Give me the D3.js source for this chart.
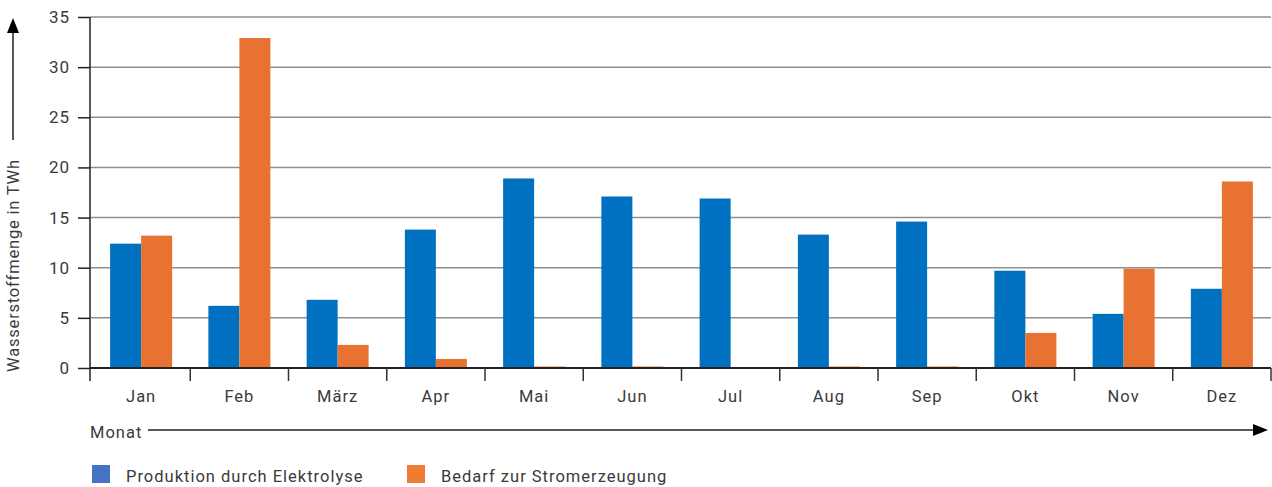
<!DOCTYPE html>
<html>
<head>
<meta charset="utf-8">
<script src="https://cdn.jsdelivr.net/npm/d3@7"></script>
<style>
  body { margin: 0; background: #fff; }
  svg { display: block; font-family: Roboto, "Noto Sans", sans-serif; }
  text { letter-spacing: 1px; }
</style>
</head>
<body>
<svg id="chart" width="1272" height="487"></svg>
<script>
// Monthly hydrogen volumes (TWh)
const months = ["Jan", "Feb", "März", "Apr", "Mai", "Jun", "Jul", "Aug", "Sep", "Okt", "Nov", "Dez"];
const production = [12.4, 6.2, 6.8, 13.8, 18.9, 17.1, 16.9, 13.3, 14.6, 9.7, 5.4, 7.9];
const demand = [13.2, 32.9, 2.3, 0.9, 0.15, 0.15, 0, 0.15, 0.15, 3.5, 9.9, 18.6];
const seriesNames = ["Produktion durch Elektrolyse", "Bedarf zur Stromerzeugung"];
const yTicks = [0, 5, 10, 15, 20, 25, 30, 35];

const barColors = ["#0070c0", "#e87232"];
const legendColors = ["#4472c4", "#ed7d31"];
const textColor = "#3a3a3a";

const svg = d3.select("#chart");
const axisX0 = 90, xLeft = 92, xRight = 1271;
const yTop = 17, yBottom = 368;

const x = d3.scaleBand().domain(months).range([xLeft, xRight]).paddingInner(0).paddingOuter(0);
const y = d3.scaleLinear().domain([0, 35]).range([yBottom, yTop]);
const inner = d3.scaleBand().domain([0, 1]).range([0, 62]);
const groupOffset = (x.bandwidth() - 62) / 2;

// Horizontal gridlines
svg.append("g")
  .selectAll("line")
  .data(yTicks.filter(d => d > 0))
  .join("line")
  .attr("x1", axisX0).attr("x2", xRight)
  .attr("y1", d => y(d)).attr("y2", d => y(d))
  .attr("stroke", "#8c8f93").attr("stroke-width", 1.5);

// Bars
const rows = months.map((m, i) => ({ month: m, vals: [production[i], demand[i]] }));
svg.append("g")
  .selectAll("g")
  .data(rows)
  .join("g")
  .attr("transform", d => `translate(${x(d.month) + groupOffset},0)`)
  .selectAll("rect")
  .data(d => d.vals.map((v, k) => ({ v, k })))
  .join("rect")
  .attr("x", d => inner(d.k))
  .attr("width", inner.bandwidth())
  .attr("y", d => y(d.v))
  .attr("height", d => yBottom - y(d.v))
  .attr("fill", d => barColors[d.k]);

// Y axis
const yAxis = svg.append("g")
  .attr("transform", `translate(${axisX0},0)`)
  .call(d3.axisLeft(y).tickValues(yTicks).tickSize(12).tickPadding(6));
yAxis.select(".domain").remove();
yAxis.selectAll(".tick line").attr("stroke", "#222").attr("stroke-width", 1.5);
yAxis.selectAll(".tick text").attr("font-size", 17).attr("fill", textColor)
  .attr("font-family", "Roboto, sans-serif").attr("dx", -2);
svg.append("line").attr("x1", axisX0).attr("x2", axisX0).attr("y1", yTop).attr("y2", yBottom + 13)
  .attr("stroke", "#222").attr("stroke-width", 1.5);

// X axis
const xAxis = svg.append("g")
  .attr("transform", `translate(0,${yBottom})`)
  .call(d3.axisBottom(x).tickSize(0).tickPadding(22));
xAxis.select(".domain").remove();
xAxis.selectAll(".tick text").attr("font-size", 16.5).attr("fill", textColor)
  .attr("font-family", "Roboto, sans-serif");
svg.append("line").attr("x1", axisX0).attr("x2", xRight).attr("y1", yBottom).attr("y2", yBottom)
  .attr("stroke", "#222").attr("stroke-width", 2);
svg.append("g")
  .selectAll("line")
  .data(months.slice(1).map(m => x(m)).concat([xRight]))
  .join("line")
  .attr("x1", d => d).attr("x2", d => d)
  .attr("y1", yBottom).attr("y2", yBottom + 13)
  .attr("stroke", "#333").attr("stroke-width", 1.5);

// Axis titles with arrows
svg.append("text")
  .attr("transform", "translate(19,372) rotate(-90)")
  .attr("font-size", 16.5).attr("fill", textColor)
  .style("letter-spacing", "0.8px")
  .text("Wasserstoffmenge in TWh");
svg.append("line").attr("x1", 13).attr("x2", 13).attr("y1", 140).attr("y2", 30)
  .attr("stroke", "#222").attr("stroke-width", 1.5);
svg.append("path").attr("d", "M13,18 L7,33 L19,33 Z").attr("fill", "#000");

svg.append("text")
  .attr("x", 90).attr("y", 438)
  .attr("font-size", 16.5).attr("fill", textColor)
  .text("Monat");
svg.append("line").attr("x1", 148).attr("x2", 1256).attr("y1", 430).attr("y2", 430)
  .attr("stroke", "#222").attr("stroke-width", 1.5);
svg.append("path").attr("d", "M1268,430 L1253,424 L1253,436 Z").attr("fill", "#000");

// Legend
const legendX = [92, 407];
const legend = svg.append("g")
  .selectAll("g")
  .data(seriesNames)
  .join("g")
  .attr("transform", (d, i) => `translate(${legendX[i]},465)`);
legend.append("rect").attr("width", 18).attr("height", 18)
  .attr("fill", (d, i) => legendColors[i]);
legend.append("text").attr("x", 34).attr("y", 17)
  .attr("font-size", 16.5).attr("fill", textColor)
  .text(d => d);
</script>
</body>
</html>
